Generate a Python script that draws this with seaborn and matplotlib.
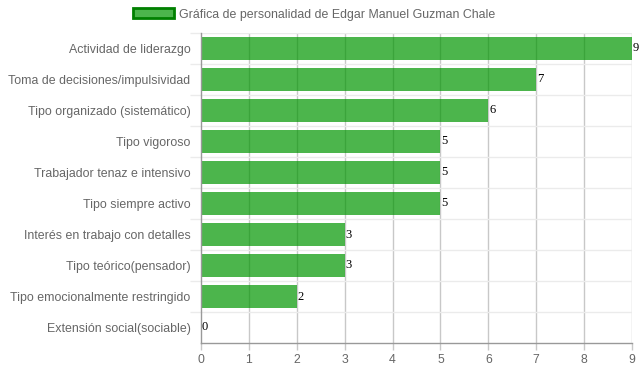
import matplotlib
matplotlib.use("Agg")
import matplotlib.pyplot as plt
import seaborn as sns
import pandas as pd
from matplotlib.patches import Patch

categories = [
    "Actividad de liderazgo",
    "Toma de decisiones/impulsividad",
    "Tipo organizado (sistemático)",
    "Tipo vigoroso",
    "Trabajador tenaz e intensivo",
    "Tipo siempre activo",
    "Interés en trabajo con detalles",
    "Tipo teórico(pensador)",
    "Tipo emocionalmente restringido",
    "Extensión social(sociable)",
]
values = [9, 7, 6, 5, 5, 5, 3, 3, 2, 0]
series_name = "Gráfica de personalidad de Edgar Manuel Guzman Chale"
x_ticks = [0, 1, 2, 3, 4, 5, 6, 7, 8, 9]

sns.set_theme(style="white")
plt.rcParams["font.family"] = ["Liberation Sans", "DejaVu Sans"]

df = pd.DataFrame({"cat": categories, "val": values})

fig = plt.figure(figsize=(6.39, 3.72), dpi=100)
ax = fig.add_axes([201/639, 1 - 343/372, 431/639, 310/372])

bar_color = (0.0, 0.59, 0.0, 0.70)
sns.barplot(data=df, x="val", y="cat", orient="h", color=bar_color,
            width=0.72, ax=ax, saturation=1, edgecolor="none", linewidth=0, zorder=2)
for p in ax.patches:
    p.set_facecolor(bar_color)

ax.set_xlim(0, 9)
ax.set_ylim(len(categories) - 0.5, -0.5)
ax.set_xticks(x_ticks)
ax.set_xticklabels([str(t) for t in x_ticks])
ax.set_xlabel("")
ax.set_ylabel("")

# grid
for t in x_ticks[1:]:
    ax.axvline(t, color="#c8c8c8", lw=1, zorder=1)
bounds = [i - 0.5 for i in range(len(categories))]
for b in bounds:
    ax.axhline(b, color="#ebebeb", lw=1, zorder=1)
ax.set_yticks(bounds, minor=True)

ax.tick_params(axis="x", which="major", colors="#666666", labelsize=8.8, length=5, width=1, pad=3, bottom=True)
ax.tick_params(axis="x", color="#c8c8c8")
ax.tick_params(axis="y", which="major", labelsize=8.9, length=0, pad=7.5)
ax.tick_params(axis="y", which="minor", length=8, width=1, color="#ebebeb", left=True)
for lab in ax.get_xticklabels() + ax.get_yticklabels():
    lab.set_color("#666666")

for s in ["top", "right"]:
    ax.spines[s].set_visible(False)
ax.spines["left"].set_color("#999999")
ax.spines["bottom"].set_color("#999999")
ax.spines["left"].set_linewidth(1)
ax.spines["bottom"].set_linewidth(1)

for c in ax.containers:
    ax.bar_label(c, labels=[str(v) for v in values], padding=0.5,
                 fontsize=9, color="black", family=["Liberation Serif", "DejaVu Serif"])

handle = Patch(facecolor=bar_color, edgecolor=(0.0, 0.5, 0.0), linewidth=2)
fig.legend([handle], [series_name], loc="upper center", bbox_to_anchor=(0.492, 1.008),
           frameon=False, fontsize=8.9, handlelength=3.3, handleheight=0.9,
           labelcolor="#666666", handletextpad=0.45)

fig.savefig("out.png", dpi=100)
